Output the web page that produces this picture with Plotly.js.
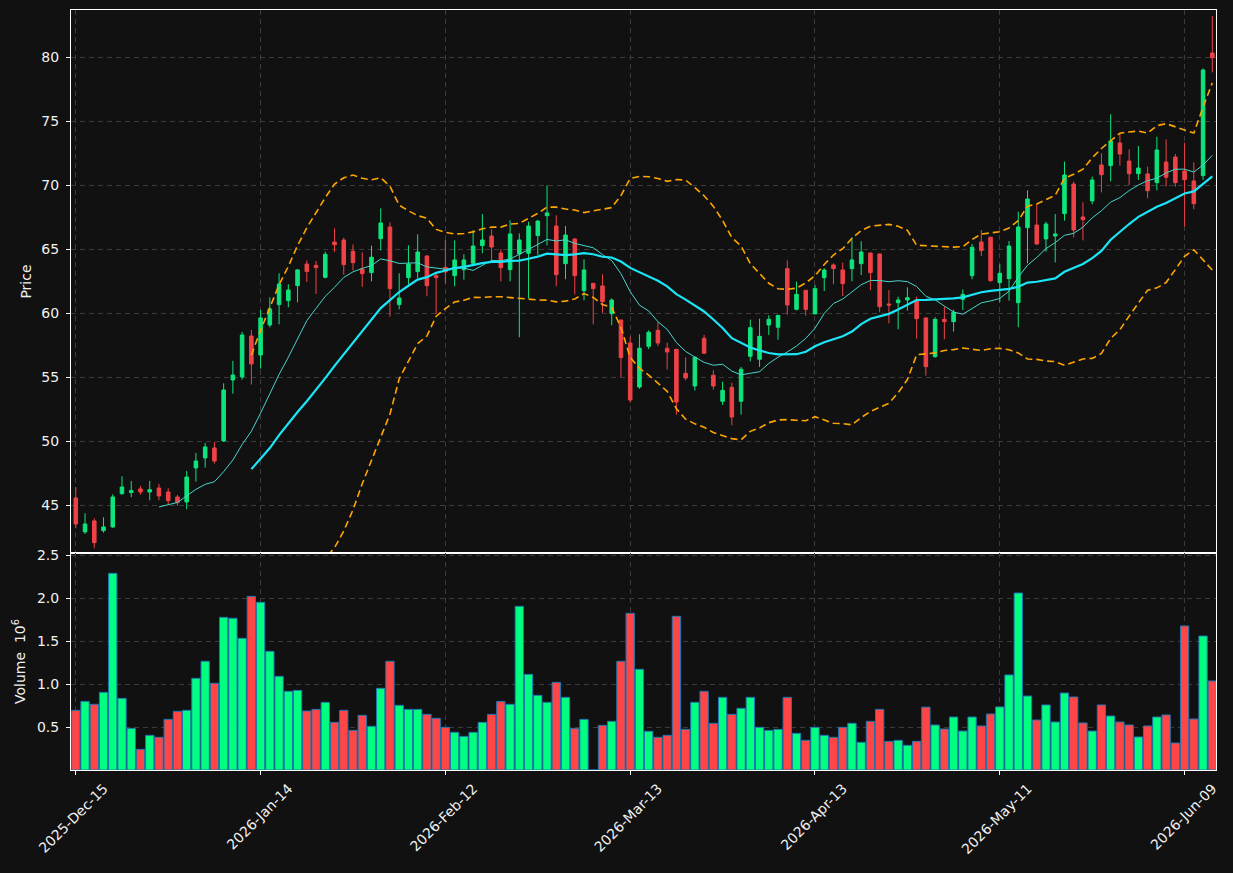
<!DOCTYPE html>
<html><head><meta charset="utf-8">
<script src="https://cdn.plot.ly/plotly-3.0.1.min.js"></script>
<style>html,body{margin:0;padding:0;background:#111111;} #chart{width:1233px;height:873px;}</style>
</head><body><div id="chart"></div>
<script>
const dates = [
'2025-12-15','2025-12-16','2025-12-17','2025-12-18','2025-12-19','2025-12-22','2025-12-23','2025-12-24','2025-12-26','2025-12-29',
'2025-12-30','2025-12-31','2026-01-02','2026-01-05','2026-01-06','2026-01-07','2026-01-08','2026-01-09','2026-01-12','2026-01-13',
'2026-01-14','2026-01-15','2026-01-16','2026-01-20','2026-01-21','2026-01-22','2026-01-23','2026-01-26','2026-01-27','2026-01-28',
'2026-01-29','2026-01-30','2026-02-02','2026-02-03','2026-02-04','2026-02-05','2026-02-06','2026-02-09','2026-02-10','2026-02-11',
'2026-02-12','2026-02-13','2026-02-17','2026-02-18','2026-02-19','2026-02-20','2026-02-23','2026-02-24','2026-02-25','2026-02-26',
'2026-02-27','2026-03-02','2026-03-03','2026-03-04','2026-03-05','2026-03-06','2026-03-09','2026-03-10','2026-03-11','2026-03-12',
'2026-03-13','2026-03-16','2026-03-17','2026-03-18','2026-03-19','2026-03-20','2026-03-23','2026-03-24','2026-03-25','2026-03-26',
'2026-03-27','2026-03-30','2026-03-31','2026-04-01','2026-04-02','2026-04-06','2026-04-07','2026-04-08','2026-04-09','2026-04-10',
'2026-04-13','2026-04-14','2026-04-15','2026-04-16','2026-04-17','2026-04-20','2026-04-21','2026-04-22','2026-04-23','2026-04-24',
'2026-04-27','2026-04-28','2026-04-29','2026-04-30','2026-05-01','2026-05-04','2026-05-05','2026-05-06','2026-05-07','2026-05-08',
'2026-05-11','2026-05-12','2026-05-13','2026-05-14','2026-05-15','2026-05-18','2026-05-19','2026-05-20','2026-05-21','2026-05-22',
'2026-05-26','2026-05-27','2026-05-28','2026-05-29','2026-06-01','2026-06-02','2026-06-03','2026-06-04','2026-06-05','2026-06-08',
'2026-06-09','2026-06-10','2026-06-11','2026-06-12'];

const openP = [
45.57,42.92,43.78,43.02,43.31,45.91,45.99,46.28,46.04,46.35,
46.04,45.65,45.26,47.92,48.70,49.48,50.03,54.79,55.03,58.23,
56.74,59.09,60.68,60.99,62.16,63.85,63.75,62.81,65.57,65.73,
64.84,63.46,63.18,65.83,66.74,60.68,62.79,63.26,64.48,62.94,
63.59,62.94,63.41,63.91,65.29,66.04,64.71,63.41,64.64,64.69,
66.07,67.63,66.82,63.88,65.81,61.77,62.34,62.14,59.97,59.48,
57.68,54.24,57.42,58.67,57.27,57.19,55.31,54.32,58.05,55.16,
53.13,54.22,53.13,56.64,56.41,59.09,58.91,63.49,60.31,61.80,
59.95,62.78,63.78,63.39,63.49,63.88,64.71,64.64,60.73,60.83,
61.04,61.04,59.64,56.61,59.53,59.35,61.09,62.94,65.57,65.94,
62.40,62.71,60.83,66.69,66.90,65.81,66.04,67.79,70.10,67.53,
68.78,71.59,71.54,73.31,71.90,70.91,70.89,70.21,71.82,72.21,
71.12,70.34,70.76,80.34];
const highP = [
46.41,44.38,43.98,44.06,45.86,47.27,46.90,46.51,46.90,46.67,
46.33,45.81,47.68,49.09,49.87,49.95,54.53,56.28,58.54,58.70,
60.26,61.25,63.13,62.27,63.46,64.14,64.09,64.82,66.64,65.91,
65.39,64.77,65.29,68.20,67.11,63.13,65.31,66.17,64.55,63.13,
65.73,65.70,64.61,66.51,67.76,66.56,65.00,67.27,66.25,67.16,
67.29,70.00,67.66,66.82,65.85,64.22,62.38,63.05,61.17,59.50,
58.18,58.36,58.67,59.32,57.71,57.20,56.56,56.64,58.31,55.55,
54.66,54.58,55.81,59.51,59.58,59.84,59.85,64.14,62.47,61.80,
62.21,63.52,63.91,63.96,65.94,65.63,64.75,64.65,61.82,61.30,
62.03,61.30,59.65,59.69,60.52,60.29,61.87,65.42,66.51,65.99,
63.83,65.65,67.94,69.61,68.52,67.16,67.76,71.85,70.29,68.67,
70.68,72.50,75.55,74.06,72.81,73.07,71.46,73.80,73.59,72.45,
73.33,71.80,79.14,83.23];
const lowP = [
43.20,42.76,41.64,42.86,43.23,45.81,45.63,45.83,45.39,45.39,
45.08,44.97,44.69,46.85,47.94,48.26,49.95,53.72,54.82,54.43,
55.68,58.90,59.14,60.47,60.86,62.45,61.51,62.73,64.79,63.02,
63.36,62.08,62.50,64.92,59.74,60.31,62.27,62.73,61.33,59.95,
62.34,62.11,62.63,63.75,64.69,64.14,62.50,62.50,58.13,61.17,
64.56,65.31,62.11,62.66,61.48,61.02,59.14,60.03,59.06,55.00,
53.02,54.10,57.21,57.45,55.60,52.08,54.77,53.96,56.82,54.04,
52.84,51.25,52.08,56.25,55.81,58.31,57.94,59.90,60.23,59.82,
59.95,61.74,62.27,61.35,62.50,62.99,61.80,60.08,59.22,58.75,
60.21,58.02,55.13,56.54,57.97,58.57,60.26,62.66,64.48,62.47,
60.86,60.99,58.91,63.91,65.34,64.82,63.98,67.24,65.94,65.70,
68.52,69.45,70.31,71.54,70.03,70.42,68.98,69.61,69.92,69.90,
66.77,68.13,70.42,78.83];
const closeP = [
43.54,43.54,42.08,43.31,45.65,46.43,46.15,46.04,46.22,45.73,
45.36,45.21,47.21,48.46,49.56,48.46,54.01,55.18,58.31,56.04,
59.64,60.34,62.29,61.82,63.39,63.26,63.57,64.61,65.36,63.80,
63.96,63.10,64.38,67.06,61.93,61.20,63.85,64.79,62.16,62.79,
63.23,64.17,64.17,65.26,65.73,65.18,63.57,66.20,65.73,66.82,
67.21,67.84,63.02,66.12,62.94,63.39,61.93,60.91,61.04,56.54,
53.23,57.27,58.52,57.68,56.98,53.07,54.95,56.56,56.88,54.32,
53.98,51.90,55.63,58.88,58.20,59.53,59.84,60.65,61.48,60.31,
61.93,63.38,63.49,62.32,64.17,64.79,63.18,60.52,60.65,61.04,
61.22,59.58,55.83,59.53,59.35,60.08,61.48,65.16,64.90,62.55,
63.13,65.26,66.74,68.93,65.42,66.98,66.20,70.81,66.51,67.32,
70.42,70.83,73.46,72.45,70.91,71.35,69.58,72.76,70.63,70.21,
70.44,68.57,79.01,79.97];
// volume in millions (axis shows x10^6)
const volumeM = [
0.694,0.798,0.764,0.903,2.287,0.833,0.484,0.240,0.403,0.380,
0.589,0.682,0.694,1.066,1.264,1.008,1.775,1.764,1.531,2.019,
1.950,1.380,1.089,0.915,0.926,0.686,0.705,0.787,0.554,0.694,
0.461,0.636,0.508,0.950,1.264,0.752,0.705,0.705,0.647,0.601,
0.496,0.438,0.391,0.438,0.554,0.647,0.798,0.764,1.903,1.112,
0.868,0.787,1.019,0.845,0.484,0.589,0.000,0.519,0.566,1.264,
1.822,1.171,0.450,0.380,0.403,1.787,0.473,0.787,0.915,0.543,
0.845,0.647,0.717,0.845,0.496,0.461,0.473,0.845,0.426,0.345,
0.496,0.403,0.380,0.496,0.543,0.322,0.566,0.705,0.333,0.345,
0.287,0.333,0.731,0.523,0.477,0.616,0.453,0.616,0.512,0.651,
0.733,1.105,2.058,0.860,0.581,0.756,0.558,0.895,0.849,0.547,
0.453,0.756,0.628,0.558,0.523,0.384,0.512,0.616,0.640,0.314,
1.674,0.593,1.558,1.035];

const tickDates = ['2025-12-15','2026-01-14','2026-02-12','2026-03-13','2026-04-13','2026-05-11','2026-06-09'];
const tickLabels = ['2025-Dec-15','2026-Jan-14','2026-Feb-12','2026-Mar-13','2026-Apr-13','2026-May-11','2026-Jun-09'];
const priceTicks = [45,50,55,60,65,70,75,80];
const volTicks = [0.5,1.0,1.5,2.0,2.5];
const volTickLabels = ['0.5','1.0','1.5','2.0','2.5'];

// indicators derived from the close series (moving averages and 20-day Bollinger bands)
function sma(a, n){ return a.map((v,i)=> i<n-1 ? null : a.slice(i-n+1,i+1).reduce((s,x)=>s+x,0)/n); }
function rstd(a, n){ return a.map((v,i)=>{ if(i<n-1) return null; const w=a.slice(i-n+1,i+1); const m=w.reduce((s,x)=>s+x,0)/n; return Math.sqrt(w.reduce((s,x)=>s+(x-m)*(x-m),0)/n); }); }
const ma10 = sma(closeP,10);
const ma20 = sma(closeP,20);
const sd20 = rstd(closeP,20);
const bbUp = ma20.map((m,i)=> m===null?null:m+2*sd20[i]);
const bbLo = ma20.map((m,i)=> m===null?null:m-2*sd20[i]);

const UP_C = '#0ee57c', DN_C = '#ef4247';
const VUP = '#00ff80', VDN = '#ff4545';
const volColors = closeP.map((c,i)=> c>=openP[i] ? VUP : VDN);

const traces = [
 {type:'candlestick', x:dates, open:openP, high:highP, low:lowP, close:closeP, xaxis:'x', yaxis:'y',
  increasing:{line:{color:UP_C, width:1}, fillcolor:UP_C},
  decreasing:{line:{color:DN_C, width:1}, fillcolor:DN_C},
  whiskerwidth:0, hoverinfo:'skip'},
 {type:'scatter', mode:'lines', x:dates, y:ma10, xaxis:'x', yaxis:'y', line:{color:'#48d6cc', width:1}, hoverinfo:'skip'},
 {type:'scatter', mode:'lines', x:dates, y:ma20, xaxis:'x', yaxis:'y', line:{color:'#1ae6f7', width:2.2}, hoverinfo:'skip'},
 {type:'scatter', mode:'lines', x:dates, y:bbUp, xaxis:'x', yaxis:'y', line:{color:'#ffa500', width:1.6, dash:'7px,4px'}, hoverinfo:'skip'},
 {type:'scatter', mode:'lines', x:dates, y:bbLo, xaxis:'x', yaxis:'y', line:{color:'#ffa500', width:1.6, dash:'7px,4px'}, hoverinfo:'skip'},
 {type:'bar', x:dates, y:volumeM, xaxis:'x2', yaxis:'y2', marker:{color:volColors, line:{color:'#1f77b4', width:1}}, hoverinfo:'skip'}
];

const gridC = '#3b3b3b';
const common = {showgrid:true, gridcolor:gridC, griddash:'5px,4px', gridwidth:1, showline:true, linecolor:'#ffffff', linewidth:1, mirror:true, zeroline:false, fixedrange:true, tickcolor:'#ffffff', tickfont:{size:14, color:'#f0f0f0'}};
const xr = [-0.52, 123.4];
const layout = {
 width:1233, height:873,
 paper_bgcolor:'#111111', plot_bgcolor:'#111111',
 margin:{l:71, r:17, t:10, b:103},
 showlegend:false,
 font:{family:'DejaVu Sans', color:'#f0f0f0', size:14},
 boxgap:0.45, bargap:0.1,
 xaxis:Object.assign({}, common, {domain:[0,1], anchor:'y', type:'category', range:xr, rangeslider:{visible:false},
   tickmode:'array', tickvals:tickDates, showticklabels:false, ticks:''}),
 yaxis:Object.assign({}, common, {domain:[0.2855,1], anchor:'x', range:[41.27,83.70], tickmode:'array', tickvals:priceTicks,
   ticks:'outside', ticklen:4, ticklabelstandoff:4, title:{text:'Price', font:{size:14, color:'#f0f0f0'}, standoff:6}}),
 xaxis2:Object.assign({}, common, {domain:[0,1], anchor:'y2', type:'category', range:xr,
   tickmode:'array', tickvals:tickDates, ticktext:tickLabels, tickangle:-45, ticks:'outside', ticklen:4, ticklabelshift:28}),
 yaxis2:Object.assign({}, common, {domain:[0,0.2855], anchor:'x2', range:[0,2.523], tickmode:'array', tickvals:volTicks, ticktext:volTickLabels,
   ticks:'outside', ticklen:4, ticklabelstandoff:4, title:{text:'Volume  10<sup>6</sup>', font:{size:14, color:'#f0f0f0'}, standoff:8}})
};
Plotly.newPlot('chart', traces, layout, {staticPlot:true, displayModeBar:false});
</script></body></html>
